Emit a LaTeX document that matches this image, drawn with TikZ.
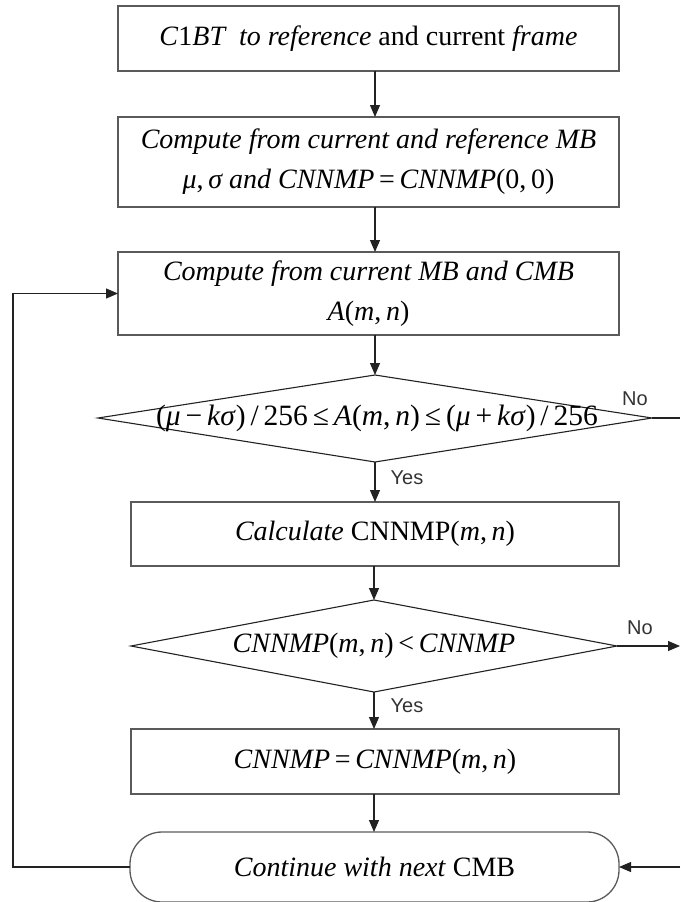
\documentclass[tikz,border=0pt]{standalone}
\usepackage{fontspec}
\setmainfont{Liberation Serif}
\newfontfamily\sansf{Liberation Sans}
\usetikzlibrary{arrows.meta}
\definecolor{boxgray}{HTML}{5A5A5A}
\definecolor{linek}{HTML}{222222}
\definecolor{lblgray}{HTML}{333333}
\newcommand\itx[1]{\textit{#1}}
\begin{document}
\begin{tikzpicture}[x=1pt,y=-1pt,
  box/.style={draw=boxgray, line width=1.3pt, inner sep=0pt, outer sep=0pt, align=center,
    font=\fontsize{28}{40}\selectfont},
  dia/.style={draw=linek, line width=1.1pt, inner sep=0pt, outer sep=0pt},
  txt/.style={inner sep=0pt, font=\fontsize{28}{40}\selectfont},
  lbl/.style={inner sep=0pt, text=lblgray, font=\sansf\fontsize{20}{22}\selectfont},
  arr/.style={draw=linek, line width=1.1pt, -{Triangle[length=12pt,width=10pt]}},
  ln/.style={draw=linek, line width=1.1pt}]
\useasboundingbox (0,0) rectangle (680,902);
\coordinate (ax) at (375,0);
\coordinate (loopx) at (13,0);
\coordinate (ex) at (680,0);

\node[box, minimum width=501pt, minimum height=65pt] (b1) at (368.5,38.5)
  {\itx{C}1\itx{BT\ \ to reference} and current \itx{frame}};
\node[box, minimum width=501pt, minimum height=90pt] (b2) at (368.5,162)
  {\itx{Compute from current and reference MB}\\
   \itx{μ},\,\itx{σ and CNNMP}\,=\,\itx{CNNMP}(0,\,0)};
\node[box, minimum width=501pt, minimum height=83pt] (b3) at (368.5,293.5)
  {\itx{Compute from current MB and CMB}\\
   \itx{A}(\itx{m},\,\itx{n})};
\coordinate (d1n) at (375,375);
\coordinate (d1s) at (375,462);
\coordinate (d1w) at (98,418);
\coordinate (d1e) at (652,418);
\draw[dia] (d1n) -- (d1e) -- (d1s) -- (d1w) -- cycle;
\node[txt, font=\fontsize{29.5}{40}\selectfont] (d1t) at (377,418)
  {(\itx{μ}\,−\,\itx{kσ})\,/\,256\,≤\,\itx{A}(\itx{m},\,\itx{n})\,≤\,(\itx{μ}\,+\,\itx{kσ})\,/\,256};
\node[box, minimum width=488pt, minimum height=64pt] (b4) at (375,534)
  {\itx{Calculate} CNNMP(\itx{m},\,\itx{n})};
\coordinate (d2n) at (374,600);
\coordinate (d2s) at (374,692);
\coordinate (d2w) at (131,646);
\coordinate (d2e) at (617,646);
\draw[dia] (d2n) -- (d2e) -- (d2s) -- (d2w) -- cycle;
\node[txt] (d2t) at (374,646)
  {\itx{CNNMP}(\itx{m},\,\itx{n})\,<\,\itx{CNNMP}};
\node[box, minimum width=488pt, minimum height=65pt] (b5) at (375,761.5)
  {\itx{CNNMP}\,=\,\itx{CNNMP}(\itx{m},\,\itx{n})};
\node[box, rounded corners=32pt, minimum width=489pt, minimum height=70pt] (t) at (374.5,867)
  {\itx{Continue with next} CMB};

\draw[arr] (b1.south -| ax) -- (b2.north -| ax);
\draw[arr] (b2.south -| ax) -- (b3.north -| ax);
\draw[arr] (b3.south -| ax) -- (d1n);
\draw[arr] (d1s) -- (b4.north -| ax);
\draw[arr] (b4.south -| d2n) -- (d2n);
\draw[arr] (d2s) -- (b5.north -| d2s);
\draw[arr] (b5.south -| d2s) -- (t.north -| d2s);
\draw[arr] (t.west) -- (t.west -| loopx) |- (b3.west);
\draw[ln] (d1e) -- (d1e -| ex);
\draw[arr] (d2e) -- (d2e -| ex);
\draw[arr] (t.east -| ex) -- (t.east);

\node[lbl] (no1) at (635,399) {No};
\node[lbl] (no2) at (640,628) {No};
\node[lbl] (yes1) at (407,478) {Yes};
\node[lbl] (yes2) at (407,706) {Yes};
\end{tikzpicture}
\end{document}
